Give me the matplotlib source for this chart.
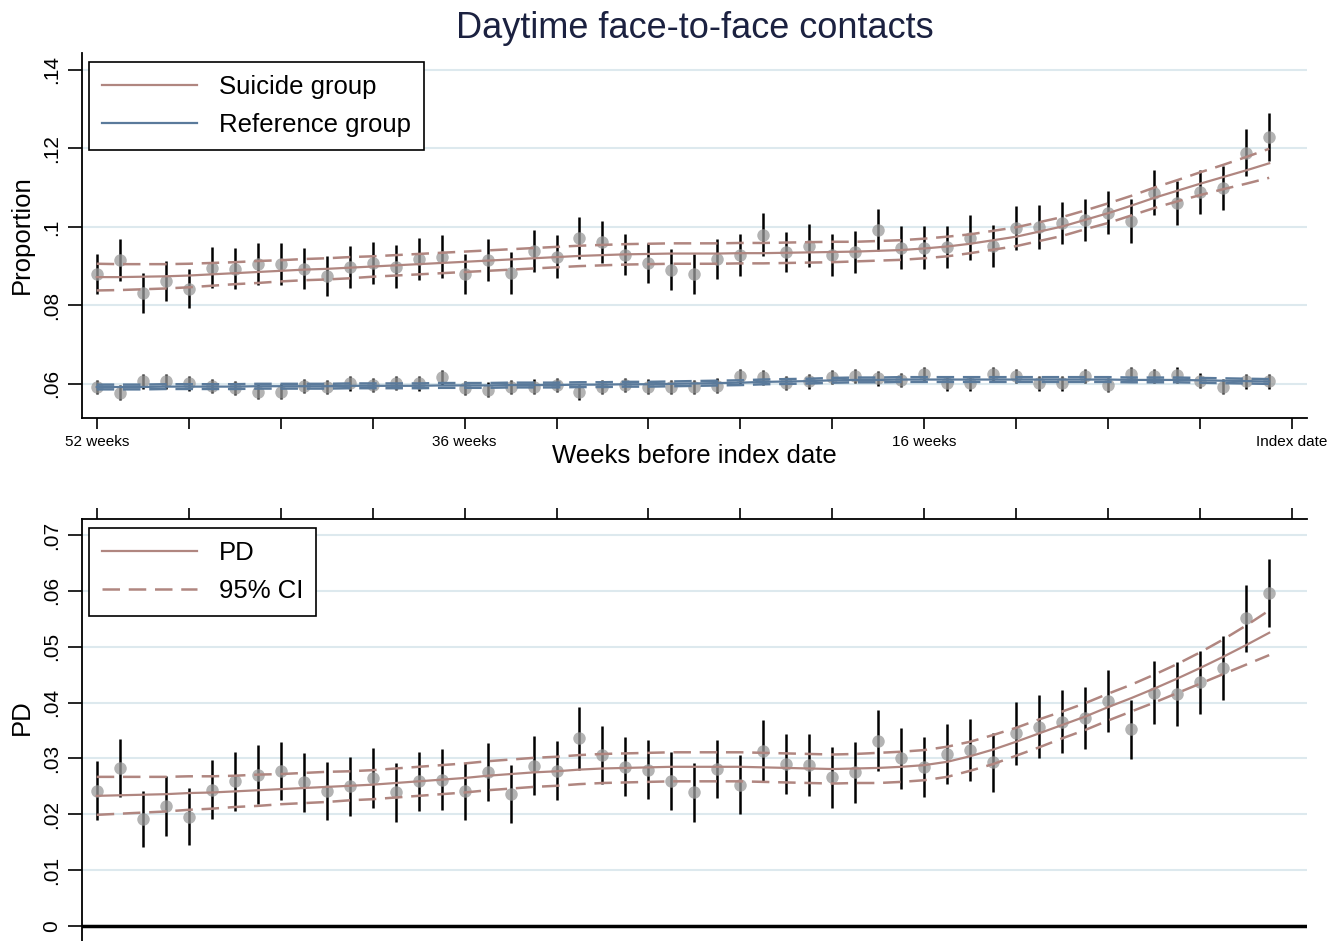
import matplotlib
matplotlib.use("Agg")
import matplotlib.pyplot as plt
from matplotlib.lines import Line2D

plt.rcParams['font.family'] = ['Liberation Sans', 'DejaVu Sans']

# weeks before index date (-52 .. -1)
weeks = list(range(-52, 0))

# top panel: suicide group
suicide_obs = [.0880, .0916, .0832, .0862, .0842, .0896, .0893, .0906, .0906, .0893,
               .0875, .0898, .0908, .0898, .0918, .0924, .0880, .0916, .0883, .0939,
               .0924, .0972, .0962, .0929, .0908, .0891, .0880, .0918, .0929, .0980,
               .0936, .0952, .0929, .0936, .0992, .0947, .0947, .0949, .0972, .0952,
               .0997, .1000, .1010, .1018, .1036, .1015, .1087, .1061, .1089, .1099,
               .1189, .1229]
suicide_err = [.0051, .0054, .0051, .0051, .0050, .0052, .0052, .0054, .0054, .0052,
               .0051, .0053, .0053, .0055, .0053, .0054, .0052, .0054, .0053, .0053,
               .0055, .0054, .0054, .0052, .0051, .0052, .0050, .0052, .0054, .0055,
               .0052, .0055, .0054, .0054, .0053, .0054, .0054, .0054, .0057, .0054,
               .0055, .0056, .0053, .0053, .0055, .0055, .0057, .0055, .0057, .0057,
               .0060, .0060]
suicide_fit = [.0872, .0872, .0873, .0874, .0876, .0879, .0882, .0885, .0888, .0891,
               .0893, .0896, .0899, .0902, .0905, .0908, .0911, .0914, .0917, .0920,
               .0923, .0926, .0928, .0930, .0931, .0932, .0932, .0932, .0933, .0933,
               .0934, .0935, .0936, .0937, .0939, .0941, .0945, .0950, .0957, .0966,
               .0975, .0988, .1001, .1018, .1035, .1054, .1074, .1092, .1110, .1127,
               .1144, .1162]
suicide_ci = [.0034, .0033, .0032, .0031, .0030, .0029, .0028, .0028, .0027, .0027,
              .0027, .0027, .0026, .0026, .0026, .0026, .0026, .0026, .0026, .0026,
              .0026, .0026, .0026, .0026, .0026, .0026, .0026, .0026, .0026, .0026,
              .0026, .0026, .0026, .0025, .0025, .0025, .0025, .0025, .0024, .0024,
              .0024, .0024, .0024, .0024, .0025, .0025, .0026, .0027, .0029, .0031,
              .0034, .0037]

# top panel: reference group
ref_obs = [.0591, .0577, .0606, .0606, .0602, .0595, .0590, .0580, .0580, .0595,
           .0593, .0602, .0597, .0602, .0602, .0617, .0590, .0585, .0593, .0593,
           .0597, .0578, .0593, .0597, .0593, .0593, .0593, .0595, .0619, .0617,
           .0603, .0606, .0617, .0620, .0614, .0610, .0625, .0602, .0602, .0625,
           .0619, .0602, .0602, .0620, .0597, .0625, .0620, .0623, .0608, .0593,
           .0606, .0606]
ref_err = [.0018, .0019, .0018, .0019, .0019, .0018, .0018, .0019, .0019, .0018,
           .0018, .0019, .0018, .0018, .0019, .0019, .0018, .0019, .0018, .0019,
           .0019, .0019, .0018, .0018, .0019, .0018, .0018, .0019, .0019, .0019,
           .0018, .0019, .0018, .0019, .0019, .0018, .0019, .0019, .0019, .0019,
           .0018, .0019, .0019, .0018, .0019, .0019, .0019, .0020, .0019, .0019,
           .0019, .0020]
ref_fit = [.0592, .0592, .0592, .0593, .0593, .0593, .0593, .0594, .0594, .0594,
           .0594, .0595, .0595, .0595, .0595, .0596, .0596, .0596, .0597, .0597,
           .0597, .0598, .0598, .0599, .0599, .0600, .0601, .0602, .0603, .0605,
           .0606, .0607, .0609, .0610, .0610, .0611, .0611, .0611, .0611, .0611,
           .0611, .0611, .0611, .0611, .0611, .0610, .0610, .0610, .0609, .0608,
           .0607, .0606]
ref_ci = [.0006] * 52

# bottom panel: proportion difference
pd_obs = [.0242, .0283, .0191, .0215, .0196, .0244, .0259, .0271, .0277, .0257,
          .0241, .0250, .0265, .0239, .0259, .0262, .0241, .0275, .0237, .0287,
          .0278, .0336, .0306, .0285, .0280, .0259, .0239, .0281, .0253, .0314,
          .0290, .0288, .0266, .0275, .0332, .0300, .0285, .0308, .0315, .0293,
          .0345, .0357, .0366, .0372, .0403, .0352, .0418, .0415, .0436, .0462,
          .0551, .0596]
pd_err = [.0053, .0052, .0050, .0053, .0051, .0053, .0053, .0053, .0052, .0053,
          .0052, .0053, .0053, .0053, .0053, .0054, .0051, .0052, .0052, .0053,
          .0053, .0056, .0052, .0053, .0053, .0052, .0053, .0052, .0053, .0055,
          .0054, .0055, .0054, .0054, .0054, .0054, .0054, .0054, .0055, .0053,
          .0056, .0056, .0056, .0056, .0056, .0053, .0057, .0057, .0057, .0058,
          .0060, .0061]
pd_fit = [.0233, .0234, .0235, .0236, .0238, .0239, .0241, .0243, .0245, .0247,
          .0249, .0251, .0253, .0256, .0259, .0262, .0265, .0269, .0272, .0275,
          .0277, .0280, .0282, .0283, .0284, .0285, .0285, .0285, .0285, .0284,
          .0283, .0282, .0281, .0282, .0283, .0285, .0288, .0294, .0304, .0316,
          .0330, .0345, .0360, .0375, .0392, .0408, .0425, .0443, .0462, .0482,
          .0503, .0525]
pd_ci = [.0034, .0033, .0032, .0031, .0030, .0029, .0028, .0028, .0027, .0027,
         .0027, .0026, .0026, .0026, .0026, .0026, .0026, .0026, .0026, .0026,
         .0026, .0026, .0026, .0026, .0026, .0026, .0026, .0026, .0026, .0026,
         .0026, .0026, .0026, .0026, .0027, .0027, .0027, .0027, .0026, .0026,
         .0025, .0025, .0024, .0024, .0024, .0024, .0025, .0026, .0028, .0031,
         .0035, .0040]

xtick_pos = list(range(-52, 1, 4))
xtick_lab = ['52 weeks', '', '', '', '36 weeks', '', '', '', '', '16 weeks', '', '', '', 'Index date']
top_yticks = [.06, .08, .1, .12, .14]
top_ylabels = ['.06', '.08', '.1', '.12', '.14']
bot_yticks = [0, .01, .02, .03, .04, .05, .06, .07]
bot_ylabels = ['0', '.01', '.02', '.03', '.04', '.05', '.06', '.07']

SUI = '#b08680'
REF = '#5a7a9b'
GRID = '#dde9ee'
MARK = '#9a9a9a'
DASH = (0, (7, 3.5))
W, H = 1340, 941


def draw_series(ax, obs, err, fit, ci, color):
    ax.errorbar(weeks, obs, yerr=err, fmt='none', ecolor='black', elinewidth=1.8,
                capsize=0, zorder=3)
    ax.plot(weeks, obs, 'o', color=MARK, markersize=9, markeredgewidth=0,
            alpha=0.75, zorder=4)
    ax.plot(weeks, fit, color=color, lw=1.6, zorder=5)
    upper = [f + c for f, c in zip(fit, ci)]
    lower = [f - c for f, c in zip(fit, ci)]
    ax.plot(weeks, upper, color=color, lw=1.8, ls=DASH, zorder=5)
    ax.plot(weeks, lower, color=color, lw=1.8, ls=DASH, zorder=5)


def style_y(ax, ticks, labels):
    ax.set_yticks(ticks)
    ax.set_yticklabels(labels, rotation=90, va='center', fontsize=15)
    ax.tick_params(axis='y', length=10, width=1.2, pad=5)
    ax.yaxis.grid(True, color=GRID, lw=1.5)
    ax.set_axisbelow(True)
    ax.spines['left'].set_linewidth(1.3)


def add_legend(ax, handles, labels, top_px, ax_bottom_px, ax_height_px):
    leg = ax.legend(handles=handles, labels=labels, loc='upper left',
                    bbox_to_anchor=(7 / 1225, (ax_bottom_px - top_px) / ax_height_px),
                    borderaxespad=0, fancybox=False, framealpha=1, edgecolor='black',
                    fontsize=18.5, handlelength=3.7, handletextpad=0.85,
                    labelspacing=0.55, borderpad=0.5)
    leg.get_frame().set_linewidth(1.2)
    return leg


fig = plt.figure(figsize=(W / 100, H / 100), dpi=100)

# top panel
ax1 = fig.add_axes([82 / W, (H - 418) / H, 1225 / W, 365 / H])
draw_series(ax1, ref_obs, ref_err, ref_fit, ref_ci, REF)
draw_series(ax1, suicide_obs, suicide_err, suicide_fit, suicide_ci, SUI)
ax1.set_xlim(-52.64, 0.645)
ax1.set_ylim(0.0513, 0.1443)
style_y(ax1, top_yticks, top_ylabels)
ax1.set_xticks(xtick_pos)
ax1.set_xticklabels(xtick_lab, fontsize=11)
ax1.tick_params(axis='x', length=8, width=1.2, pad=4)
ax1.spines['top'].set_visible(False)
ax1.spines['right'].set_visible(False)
ax1.spines['bottom'].set_linewidth(1.3)
add_legend(ax1, [Line2D([], [], color=SUI, lw=1.6), Line2D([], [], color=REF, lw=1.6)],
           ['Suicide group', 'Reference group'], 62, 418, 365)

# bottom panel
ax2 = fig.add_axes([82 / W, 0, 1225 / W, (H - 519) / H])
draw_series(ax2, pd_obs, pd_err, pd_fit, pd_ci, SUI)
ax2.axhline(0, color='black', lw=2.5, zorder=6)
ax2.set_xlim(-52.64, 0.645)
ax2.set_ylim(-0.00269, 0.07287)
style_y(ax2, bot_yticks, bot_ylabels)
ax2.xaxis.tick_top()
ax2.set_xticks(xtick_pos)
ax2.set_xticklabels([])
ax2.tick_params(axis='x', length=8, width=1.2)
ax2.spines['right'].set_visible(False)
ax2.spines['bottom'].set_visible(False)
ax2.spines['top'].set_linewidth(1.3)
add_legend(ax2, [Line2D([], [], color=SUI, lw=1.6), Line2D([], [], color=SUI, lw=1.8, ls=DASH)],
           ['PD', '95% CI'], 528, 941, 422)

# titles and axis labels
fig.text(694.5 / W, (H - 29) / H, 'Daytime face-to-face contacts', ha='center',
         va='center', fontsize=26, color='#1b2140')
fig.text(694.5 / W, (H - 456) / H, 'Weeks before index date', ha='center',
         va='center', fontsize=18.5)
fig.text(22 / W, (H - 235) / H, 'Proportion', ha='center', va='center',
         rotation=90, fontsize=18.5)
fig.text(22 / W, (H - 717) / H, 'PD', ha='center', va='center',
         rotation=90, fontsize=18.5)

fig.savefig('out.png', dpi=100)
